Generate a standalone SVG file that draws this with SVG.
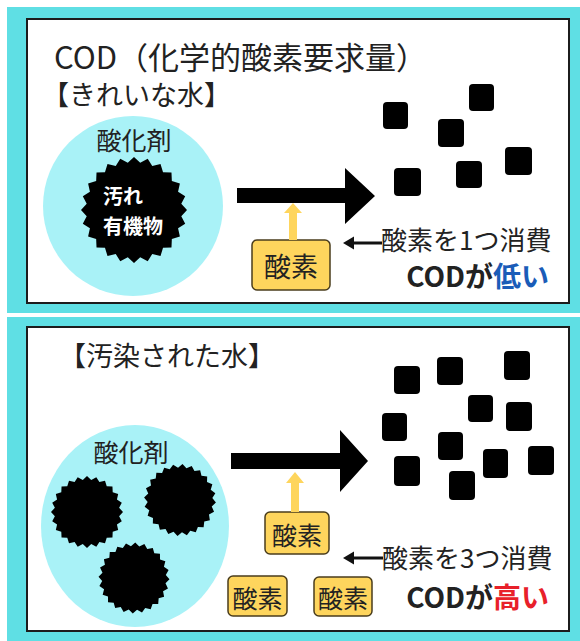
<svg xmlns="http://www.w3.org/2000/svg" xmlns:xlink="http://www.w3.org/1999/xlink" width="580" height="641" viewBox="0 0 580 641">
<style>
.frame{fill:#5fdfe4}
.panel{fill:#ffffff;stroke:#1c1c1c;stroke-width:2}
.water{fill:#a9f2f7}
.t{font-family:"Noto Sans CJK JP","Noto Sans",sans-serif;fill:#222}
.b{font-weight:bold}
.ox{fill:#fed55d;stroke:#4a3d1c;stroke-width:1.5}
.sq{fill:#000}
.big{fill:#000}
.ya{fill:#fed55d}
</style>
<defs>
<path id="star" d="M50,0 L44.61,5.87 L48.30,12.94 L41.57,17.22 L43.30,25 L35.70,27.39 L35.36,35.36 L27.39,35.70 L25,43.30 L17.22,41.57 L12.94,48.30 L5.87,44.61 L0,50 L-5.87,44.61 L-12.94,48.30 L-17.22,41.57 L-25,43.30 L-27.39,35.70 L-35.36,35.36 L-35.70,27.39 L-43.30,25 L-41.57,17.22 L-48.30,12.94 L-44.61,5.87 L-50,0 L-44.61,-5.87 L-48.30,-12.94 L-41.57,-17.22 L-43.30,-25 L-35.70,-27.39 L-35.36,-35.36 L-27.39,-35.70 L-25,-43.30 L-17.22,-41.57 L-12.94,-48.30 L-5.87,-44.61 L0,-50 L5.87,-44.61 L12.94,-48.30 L17.22,-41.57 L25,-43.30 L27.39,-35.70 L35.36,-35.36 L35.70,-27.39 L43.30,-25 L41.57,-17.22 L48.30,-12.94 L44.61,-5.87 Z" fill="#000"/>
</defs>

<!-- backgrounds -->
<rect class="frame" x="7" y="7" width="573" height="306"/>
<rect class="frame" x="7" y="317" width="573" height="324"/>
<rect class="panel" x="27" y="19" width="542" height="284"/>
<rect class="panel" x="27" y="327" width="542" height="304"/>

<!-- ===== TOP PANEL ===== -->
<text class="t" x="54" y="69" font-size="31">COD（化学的酸素要求量）</text>
<text class="t" x="42" y="105" font-size="27">【きれいな水】</text>

<g id="oxidant-top">
<circle class="water" cx="133" cy="206" r="90"/>
<text class="t" x="134" y="150" font-size="25" text-anchor="middle">酸化剤</text>
</g>
<g id="dirt-top">
<use xlink:href="#star" href="#star" transform="translate(134,210) scale(1.06)"/>
<text class="t b" x="103" y="204" font-size="20" style="fill:#fff">汚れ</text>
<text class="t b" x="103" y="234" font-size="20" style="fill:#fff">有機物</text>
</g>

<g id="oxygen-top">
<rect class="ox" x="252" y="240" width="78" height="50" rx="5"/>
<text class="t" x="291" y="277" font-size="27" text-anchor="middle">酸素</text>
</g>

<g id="products-top">
<rect class="sq" x="383" y="102" width="25" height="27" rx="4"/>
<rect class="sq" x="469" y="84" width="25" height="27" rx="4"/>
<rect class="sq" x="438" y="119" width="26" height="28" rx="4"/>
<rect class="sq" x="505" y="147" width="27" height="28" rx="4"/>
<rect class="sq" x="456" y="161" width="26" height="27" rx="4"/>
<rect class="sq" x="394" y="168" width="27" height="28" rx="4"/>
</g>

<g id="label-top">
<text class="t" x="381" y="250" font-size="26">酸素を1つ消費</text>
<text class="t b" x="549" y="287" font-size="28" text-anchor="end">CODが<tspan style="fill:#1a5cb8">低い</tspan></text>
</g>

<!-- ===== BOTTOM PANEL ===== -->
<text class="t" x="59" y="366" font-size="27">【汚染された水】</text>

<g id="oxidant-bottom">
<ellipse class="water" cx="135" cy="526" rx="94" ry="101"/>
<text class="t" x="131" y="462" font-size="25" text-anchor="middle">酸化剤</text>
</g>
<g id="dirt-bottom">
<use xlink:href="#star" href="#star" transform="translate(87,512) scale(0.72)"/>
<use xlink:href="#star" href="#star" transform="translate(180,500) scale(0.72) rotate(4)"/>
<use xlink:href="#star" href="#star" transform="translate(134,578) scale(0.71) rotate(2)"/>
</g>

<g id="oxygen-bottom-1">
<rect class="ox" x="265" y="512" width="64" height="42" rx="5"/>
<text class="t" x="297" y="545" font-size="25" text-anchor="middle">酸素</text>
</g>
<g id="oxygen-bottom-2">
<rect class="ox" x="228" y="576" width="59" height="40" rx="5"/>
<text class="t" x="257.5" y="608" font-size="25" text-anchor="middle">酸素</text>
</g>
<g id="oxygen-bottom-3">
<rect class="ox" x="314" y="577" width="58" height="39" rx="5"/>
<text class="t" x="343" y="608" font-size="25" text-anchor="middle">酸素</text>
</g>

<g id="products-bottom">
<rect class="sq" x="394" y="366" width="26" height="28" rx="4"/>
<rect class="sq" x="437" y="357" width="26" height="28" rx="4"/>
<rect class="sq" x="504" y="351" width="26" height="29" rx="4"/>
<rect class="sq" x="468" y="395" width="25" height="27" rx="4"/>
<rect class="sq" x="506" y="402" width="26" height="29" rx="4"/>
<rect class="sq" x="382" y="413" width="25" height="28" rx="4"/>
<rect class="sq" x="438" y="432" width="25" height="28" rx="4"/>
<rect class="sq" x="394" y="456" width="26" height="30" rx="4"/>
<rect class="sq" x="483" y="449" width="25" height="29" rx="4"/>
<rect class="sq" x="528" y="446" width="26" height="29" rx="4"/>
<rect class="sq" x="449" y="471" width="26" height="29" rx="4"/>
</g>

<g id="label-bottom">
<text class="t" x="382" y="568" font-size="26">酸素を3つ消費</text>
<text class="t b" x="549" y="608" font-size="28" text-anchor="end">CODが<tspan style="fill:#e8202a">高い</tspan></text>
</g>

<!-- ===== CONNECTORS ===== -->
<g id="connectors">
<polygon class="big" points="237,188 345,188 345,168 375,196 345,224 345,203 237,203"/>
<polygon class="ya" points="289,240 289,213 284,213 293,203 302,213 297,213 297,240"/>
<path d="M352,243 H382" stroke="#111" stroke-width="3" fill="none"/>
<polygon points="343,243 354,236.5 354,249.5" fill="#111"/>

<polygon class="big" points="231,453 340,453 340,430 368,461 340,492 340,469 231,469"/>
<polygon class="ya" points="291,512 291,483 286,483 295,472 304,483 299,483 299,512"/>
<path d="M352,558 H383" stroke="#111" stroke-width="3" fill="none"/>
<polygon points="343,558 354,551.5 354,564.5" fill="#111"/>
</g>
</svg>
